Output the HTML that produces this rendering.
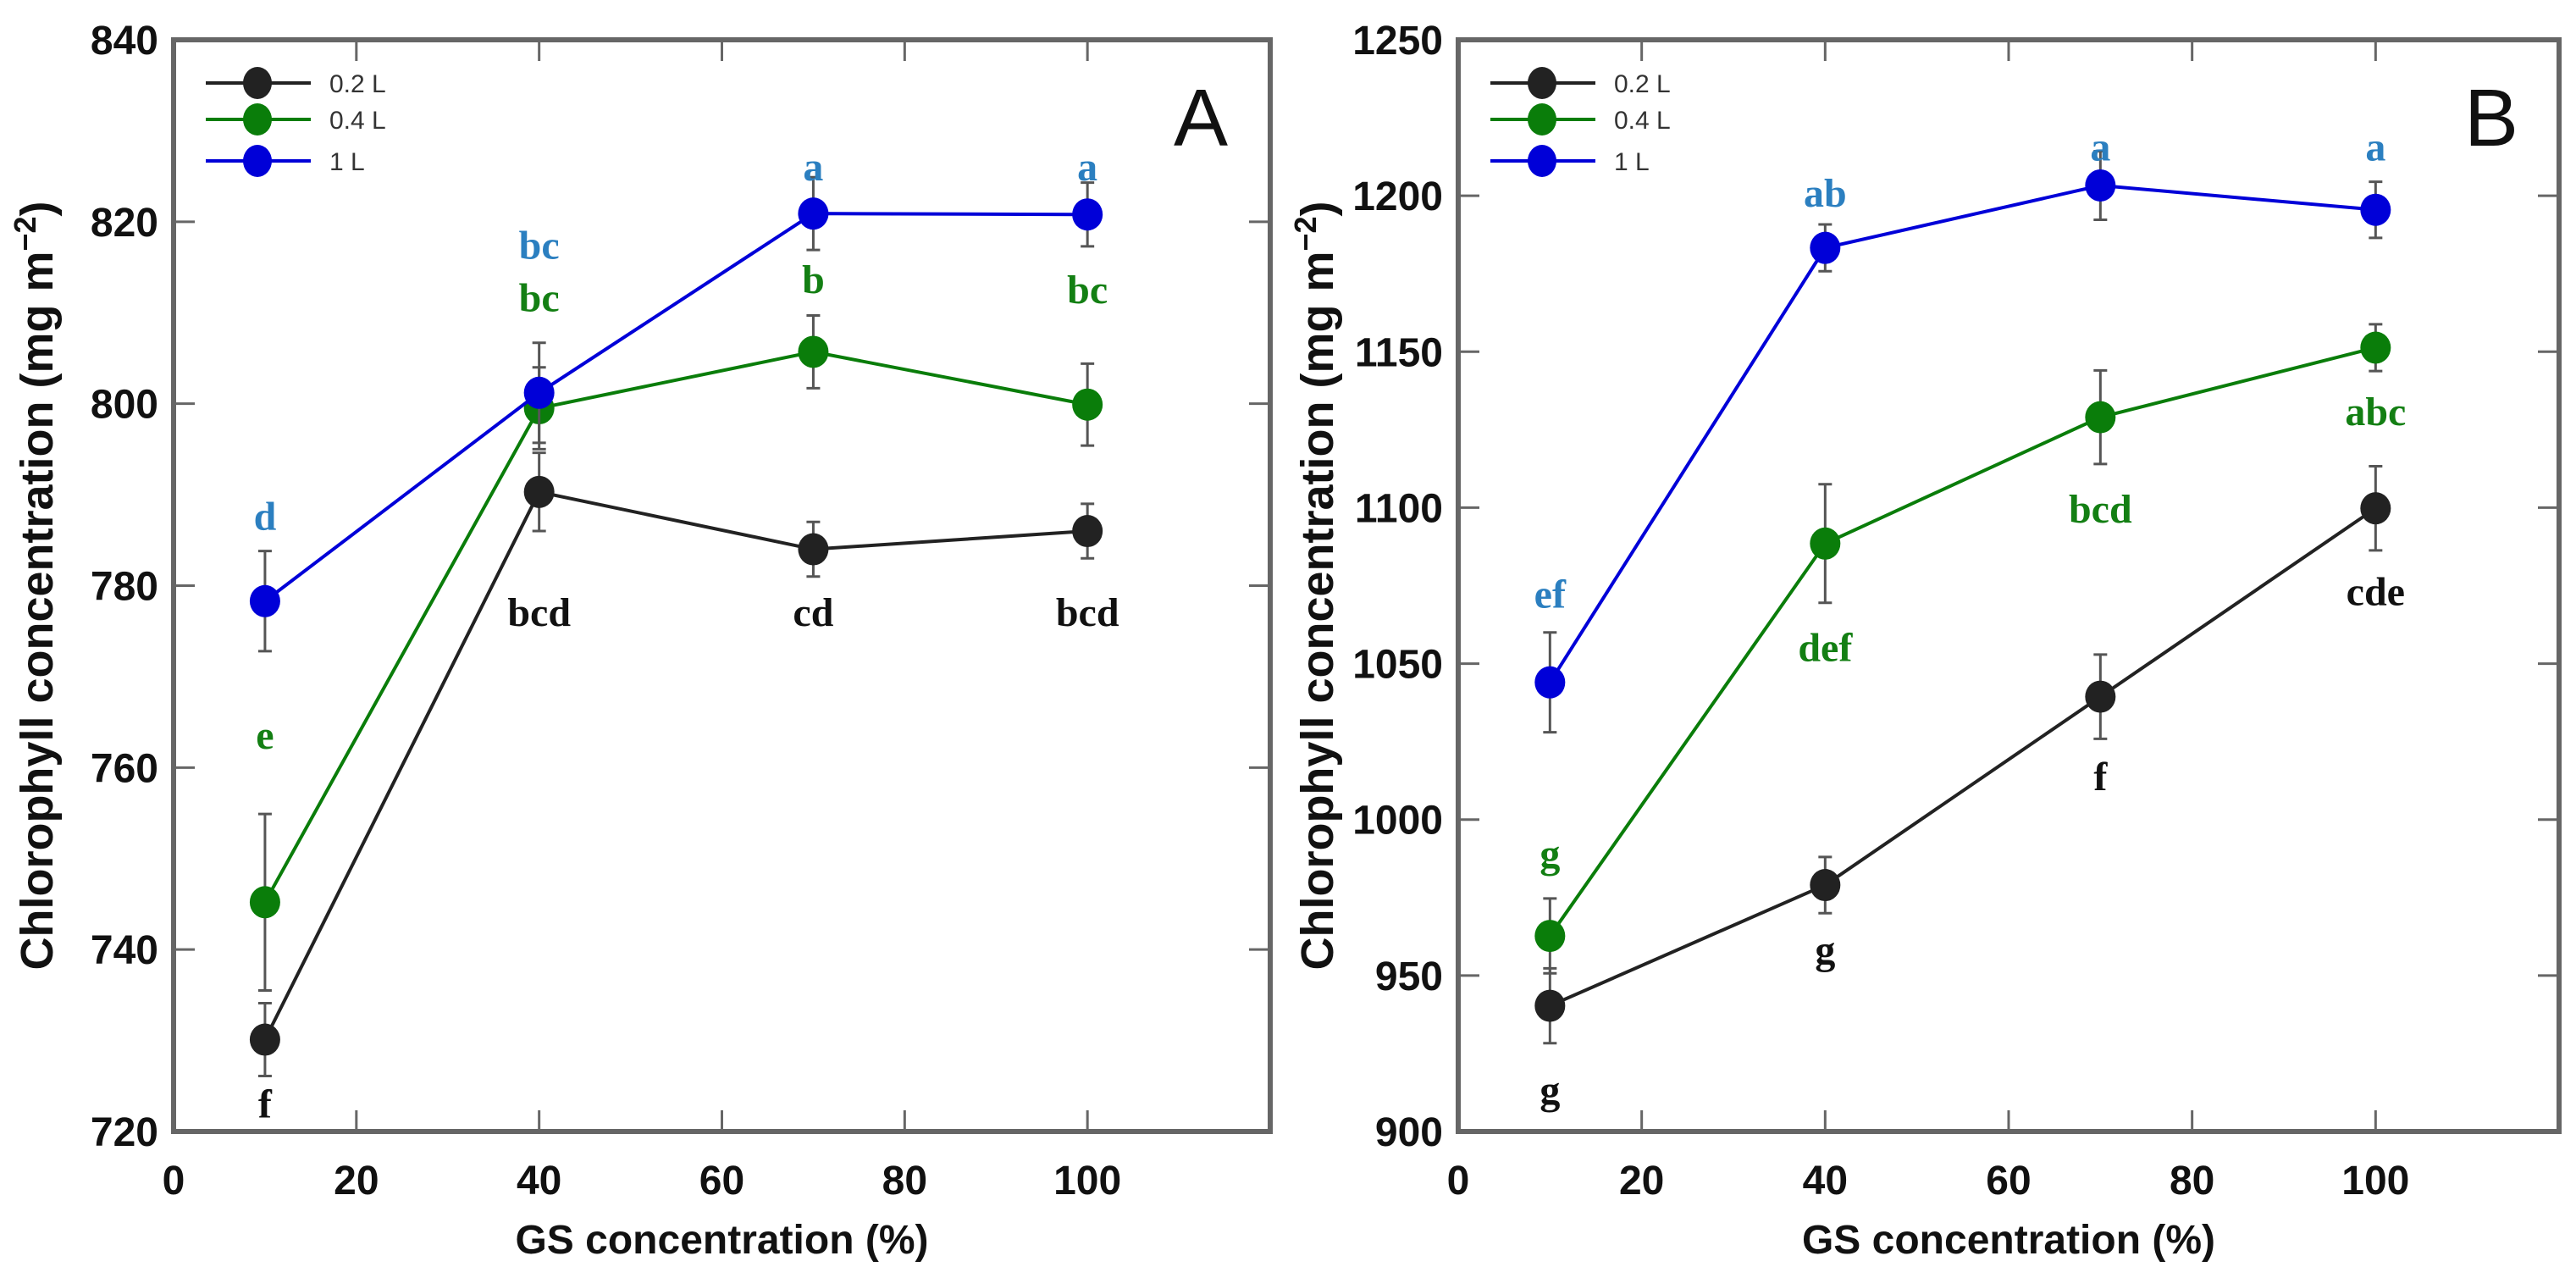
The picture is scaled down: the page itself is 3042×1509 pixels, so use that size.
<!DOCTYPE html>
<html><head><meta charset="utf-8">
<style>
html,body{margin:0;padding:0;background:#fff;}
svg{display:block;}
.tick{font-family:"Liberation Sans",sans-serif;font-weight:bold;font-size:48px;fill:#111;}
.ttl{font-family:"Liberation Sans",sans-serif;font-weight:bold;font-size:48px;fill:#111;}
.yttl{font-family:"Liberation Sans",sans-serif;font-weight:bold;font-size:54px;fill:#111;}
.leg{font-family:"Liberation Sans",sans-serif;font-size:30px;fill:#333;}
.sig{font-family:"Liberation Serif",serif;font-weight:bold;font-size:48px;}
.pl{font-family:"Liberation Sans",sans-serif;font-size:96px;fill:#111;}
</style></head>
<body>
<svg id="chart" width="3042" height="1509" viewBox="0 0 3042 1509" xmlns="http://www.w3.org/2000/svg"></svg>
<script>
// ---- data ----
const xCats = [10, 40, 70, 100];
const xTicks = [0, 20, 40, 60, 80, 100];
const seriesNames = ["0.2 L", "0.4 L", "1 L"];
const seriesColors = ["#222222", "#0a7d0a", "#0000d8"];
const letterColors = ["#111111", "#137f13", "#2b7fc0"];

// Panel A
const aYTicks = [720, 740, 760, 780, 800, 820, 840];
const aBlack = [730.1, 790.3, 784.0, 786.0];
const aBlackErr = [4.0, 4.3, 3.0, 3.0];
const aGreen = [745.2, 799.5, 805.7, 799.9];
const aGreenErr = [9.7, 4.5, 4.0, 4.5];
const aBlue = [778.3, 801.2, 820.9, 820.8];
const aBlueErr = [5.5, 5.5, 4.0, 3.5];
const aBlackLet = ["f", "bcd", "cd", "bcd"];
const aBlackLetY = [723, 777, 777, 777];
const aGreenLet = ["e", "bc", "b", "bc"];
const aGreenLetY = [763.5, 811.6, 813.6, 812.5];
const aBlueLet = ["d", "bc", "a", "a"];
const aBlueLetY = [787.6, 817.4, 826, 826];

// Panel B
const bYTicks = [900, 950, 1000, 1050, 1100, 1150, 1200, 1250];
const bBlack = [940.3, 979.0, 1039.4, 1099.8];
const bBlackErr = [12, 9, 13.5, 13.5];
const bGreen = [962.7, 1088.5, 1129.0, 1151.3];
const bGreenErr = [12, 19, 15, 7.5];
const bBlue = [1044.0, 1183.3, 1203.3, 1195.5];
const bBlueErr = [16, 7.5, 11, 9];
const bBlackLet = ["g", "g", "f", "cde"];
const bBlackLetY = [913, 958, 1013.7, 1073];
const bGreenLet = ["g", "def", "bcd", "abc"];
const bGreenLetY = [988.8, 1055, 1099.4, 1130.6];
const bBlueLet = ["ef", "ab", "a", "a"];
const bBlueLetY = [1072.1, 1200.7, 1215.5, 1215.5];

const NS = "http://www.w3.org/2000/svg";
const svg = document.getElementById("chart");
function mk(tag, attrs, parent) {
  const e = document.createElementNS(NS, tag);
  for (const k in attrs) e.setAttribute(k, attrs[k]);
  (parent || svg).appendChild(e);
  return e;
}

function panel(cfg) {
  const g = mk("g", {});
  
  
  const L = cfg.left, R = cfg.right, T = 47, B = 1336;
  const xmin = 0, xmax = 120;
  const ymin = cfg.yTicks[0], ymax = cfg.yTicks[cfg.yTicks.length - 1];
  const sx = v => L + (v - xmin) / (xmax - xmin) * (R - L);
  const sy = v => B - (v - ymin) / (ymax - ymin) * (B - T);

  cfg.yTicks.forEach(t => {
    const y = sy(t);
    if (t !== ymin && t !== ymax) {
      const tl = mk("line", {x1: L, x2: L + 25, y1: y, y2: y, stroke: "#666", "stroke-width": 3}, g);
      
      
      mk("line", {x1: R - 25, x2: R, y1: y, y2: y, stroke: "#666", "stroke-width": 3}, g);
    }
    const tx = mk("text", {x: L - 18, y: y + 17, "text-anchor": "end", class: "tick"}, g);
    tx.textContent = t;
    
    
  });
  xTicks.forEach(t => {
    const x = sx(t);
    if (t !== 0) {
      const tl = mk("line", {x1: x, x2: x, y1: B, y2: B - 25, stroke: "#666", "stroke-width": 3}, g);
      
      
      mk("line", {x1: x, x2: x, y1: T, y2: T + 25, stroke: "#666", "stroke-width": 3}, g);
    }
    const tx = mk("text", {x: x, y: B + 74, "text-anchor": "middle", class: "tick"}, g);
    tx.textContent = t;
    
    
  });
  const frame = mk("rect", {x: L, y: T, width: R - L, height: B - T, fill: "none", stroke: "#666", "stroke-width": 6}, g);
  
  

  const xt = mk("text", {x: (L + R) / 2, y: 1480, "text-anchor": "middle", class: "ttl"}, g);
  xt.textContent = "GS concentration (%)";
  
  
  const yt = mk("text", {x: 0, y: 0, "text-anchor": "middle", class: "yttl", transform: `translate(${cfg.ytX},${(T + B) / 2}) rotate(-90)`}, g);
  yt.innerHTML = 'Chlorophyll concentration (mg m<tspan dy="-20" font-size="36">−2</tspan><tspan dy="20">)</tspan>';
  
  

  const pl = mk("text", {x: cfg.plX, y: 172, "text-anchor": "middle", class: "pl"}, g);
  pl.textContent = cfg.label;
  
  

  cfg.series.forEach((s, i) => {
    const sg = mk("g", {}, g);
    
    
    const pts = xCats.map((x, j) => sx(x) + "," + sy(s.v[j])).join(" ");
    const pln = mk("polyline", {points: pts, fill: "none", stroke: seriesColors[i], "stroke-width": 4}, sg);
    
    
    xCats.forEach((x, j) => {
      const cx = sx(x), y1 = sy(s.v[j] + s.e[j]), y2 = sy(s.v[j] - s.e[j]);
      const eb = mk("path", {d: `M${cx},${y1}V${y2}M${cx - 8},${y1}H${cx + 8}M${cx - 8},${y2}H${cx + 8}`, stroke: "#555", "stroke-width": 3, fill: "none"}, sg);
      
      
    });
    xCats.forEach((x, j) => {
      const m = mk("ellipse", {cx: sx(x), cy: sy(s.v[j]), rx: 18, ry: 19, fill: seriesColors[i]}, sg);
      
      
      const lt = mk("text", {x: sx(x), y: sy(s.ly[j]), "text-anchor": "middle", "dominant-baseline": "central", class: "sig", fill: letterColors[i]}, sg);
      lt.textContent = s.l[j];
      
      
    });
  });

  const lg = mk("g", {}, g);
  
  
  const legY = [98, 141, 190];
  seriesNames.forEach((n, i) => {
    const e = mk("g", {}, lg);
    
    
    mk("line", {x1: L + 38, x2: L + 162, y1: legY[i], y2: legY[i], stroke: seriesColors[i], "stroke-width": 4}, e);
    mk("ellipse", {cx: L + 99, cy: legY[i], rx: 17, ry: 19, fill: seriesColors[i]}, e);
    const t = mk("text", {x: L + 184, y: legY[i] + 11, class: "leg"}, e);
    t.textContent = n;
  });
}

panel({name: "panel-a", left: 205, right: 1500, yTicks: aYTicks, ytX: 62, plX: 1418, label: "A",
  series: [
    {v: aBlack, e: aBlackErr, l: aBlackLet, ly: aBlackLetY},
    {v: aGreen, e: aGreenErr, l: aGreenLet, ly: aGreenLetY},
    {v: aBlue, e: aBlueErr, l: aBlueLet, ly: aBlueLetY}
  ]});
panel({name: "panel-b", left: 1722, right: 3022, yTicks: bYTicks, ytX: 1574, plX: 2942, label: "B",
  series: [
    {v: bBlack, e: bBlackErr, l: bBlackLet, ly: bBlackLetY},
    {v: bGreen, e: bGreenErr, l: bGreenLet, ly: bGreenLetY},
    {v: bBlue, e: bBlueErr, l: bBlueLet, ly: bBlueLetY}
  ]});
</script>
</body></html>
